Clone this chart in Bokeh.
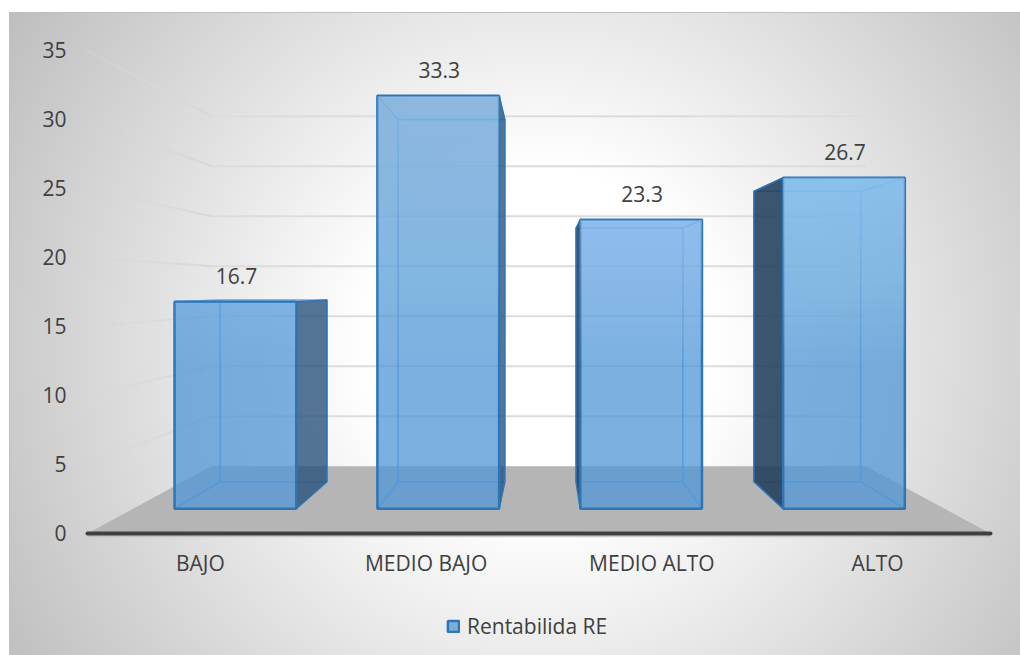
from bokeh.core.properties import value
from bokeh.embed import file_html
from bokeh.models import ColumnDataSource, FixedTicker, Legend, LegendItem, Range1d
from bokeh.plotting import figure
from bokeh.resources import INLINE

categories = ["BAJO", "MEDIO BAJO", "MEDIO ALTO", "ALTO"]
rentabilidad = [16.7, 33.3, 23.3, 26.7]
y_ticks = [0, 5, 10, 15, 20, 25, 30, 35]
series_name = "Rentabilida RE"

FONT = "Open Sans"
TEXT = "#404040"

# Perspective camera: depth factor 1 is the plane of the axes.
HORIZON = 17.7
WALL_VANISH_X = 1.993
BAR_VANISH_X = 2.03
S_BAR_FRONT = 0.8986
S_BAR_BACK = 0.788
S_WALL = 0.725
HALF_WIDTH = 0.3
# Strength of the light sheen on each bar's front face
SHEEN = [0.03, 0.028, 0.05, 0.055]


def project(x, v, s, vx):
    return vx + (x - vx) * s, HORIZON + (v - HORIZON) * s


def face(points, vx=BAR_VANISH_X):
    xy = [project(*pt, vx) for pt in points]
    return [q[0] for q in xy], [q[1] for q in xy]


# The frame fills the page; both axes sit inside it at their zero lines.
p = figure(
    width=1020, height=655, output_backend="svg", toolbar_location=None,
    x_range=Range1d(-0.3854, 4.1329), y_range=Range1d(-8.841, 38.623),
    min_border_left=0, min_border_right=0, min_border_top=0, min_border_bottom=0,
    background_fill_color=None, border_fill_color=None, outline_line_color=None,
)
p.styles = {
    "background": (
        "linear-gradient(#bfbfbf,#bfbfbf) 9px 12px/1011px 1px no-repeat,"
        "linear-gradient(#bfbfbf,#bfbfbf) 9px 12px/1px 643px no-repeat,"
        "radial-gradient(circle 640px at 530px 330px,#ffffff 0%,#ffffff 27%,#bcbcbc 100%)"
        " 10px 13px/1010px 642px no-repeat,#ffffff"
    )
}
p.grid.visible = False

# Axes
p.yaxis.fixed_location = 0
p.yaxis.ticker = FixedTicker(ticks=y_ticks)
p.yaxis.axis_line_color = None
p.yaxis.major_tick_line_color = None
p.yaxis.minor_tick_line_color = None
p.yaxis.major_label_standoff = 15
p.yaxis.major_label_text_font = FONT
p.yaxis.major_label_text_font_size = "21px"
p.yaxis.major_label_text_color = TEXT

p.xaxis.fixed_location = 0
p.xaxis.bounds = (0, 4)
p.xaxis.ticker = FixedTicker(ticks=[i + 0.5 for i in range(len(categories))])
p.xaxis.major_label_overrides = {i + 0.5: c for i, c in enumerate(categories)}
p.xaxis.axis_line_color = "#404040"
p.xaxis.axis_line_width = 4
p.xaxis.axis_line_cap = "round"
p.xaxis.major_tick_line_color = None
p.xaxis.minor_tick_line_color = None
p.xaxis.major_label_standoff = 10
p.xaxis.major_label_text_font = FONT
p.xaxis.major_label_text_font_size = "21px"
p.xaxis.major_label_text_color = TEXT

# Floor of the 3D box, with a soft shadow under the category axis
fx, fy = face([(0, 0, 1), (4, 0, 1), (4, 0, S_WALL), (0, 0, S_WALL)], WALL_VANISH_X)
p.patch(fx, fy, fill_color="#b5b5b5", line_color=None)
p.line([0, 4], [-0.2, -0.2], line_color="#b8b8b8", line_width=2, line_alpha=0.7)

# Back wall gridlines, and side wall lines that fade out towards the axis
for t in y_ticks[1:]:
    bx, by = face([(0, t, S_WALL), (4, t, S_WALL)], WALL_VANISH_X)
    p.line(bx, by, line_color="#dcdcdc", line_width=2)
    steps = 10
    for k in range(steps):
        s0 = 1 + (S_WALL - 1) * k / steps
        s1 = 1 + (S_WALL - 1) * (k + 1) / steps
        sx, sy = face([(0, t, s0), (0, t, s1)], WALL_VANISH_X)
        p.line(sx, sy, line_color="#d8d8d8", line_width=2, line_alpha=0.25 + 0.75 * (k + 1) / steps)

EDGE = "#2e75b6"
INNER = "#5fa2e0"
front_x, front_y = [], []
for i, v in enumerate(rentabilidad):
    c = i + 0.5
    l, r = c - HALF_WIDTH, c + HALF_WIDTH
    near_x = r if c < BAR_VANISH_X else l
    far_x = l if c < BAR_VANISH_X else r
    F, B = S_BAR_FRONT, S_BAR_BACK

    # Inner faces, seen through the translucent front
    inner_faces = [
        [(l, 0, B), (r, 0, B), (r, v, B), (l, v, B)],
        [(far_x, 0, F), (far_x, 0, B), (far_x, v, B), (far_x, v, F)],
        [(l, 0, F), (r, 0, F), (r, 0, B), (l, 0, B)],
        [(l, v, F), (r, v, F), (r, v, B), (l, v, B)],
    ]
    for pts in inner_faces:
        ix, iy = face(pts)
        p.patch(ix, iy, fill_color="#5b9bd5", fill_alpha=0.1,
                line_color=INNER, line_width=1.5, line_alpha=0.6)

    # Outer side face in shadow, deeper on the bars right of the vanishing point
    sx, sy = face([(near_x, 0, F), (near_x, 0, B), (near_x, v, B), (near_x, v, F)])
    if c < BAR_VANISH_X:
        p.patch(sx, sy, fill_color="#234b75", fill_alpha=0.75, line_color=EDGE, line_width=1.5)
    else:
        p.patch(sx, sy, fill_color="#1f3a57", fill_alpha=0.85, line_color=EDGE, line_width=1.5)

    fx, fy = face([(l, 0, F), (r, 0, F), (r, v, F), (l, v, F)])
    front_x.append(fx)
    front_y.append(fy)

front_faces = p.patches(front_x, front_y, fill_color="#4f95d7", fill_alpha=0.72,
                        line_color=EDGE, line_width=2.5)

# Lighter sheen building up with height on the front faces
for i, v in enumerate(rentabilidad):
    c = i + 0.5
    l, r = c - HALF_WIDTH, c + HALF_WIDTH
    level = 12.0
    while level < v:
        sx, sy = face([(l, level, S_BAR_FRONT), (r, level, S_BAR_FRONT),
                       (r, v, S_BAR_FRONT), (l, v, S_BAR_FRONT)])
        p.patch(sx, sy, fill_color="#a8d8ff", fill_alpha=SHEEN[i], line_color=None)
        level += 1.0

# Value labels above the front top edge of each bar
label_pts = [project(i + 0.5, v, S_BAR_FRONT, BAR_VANISH_X) for i, v in enumerate(rentabilidad)]
labels = ColumnDataSource(dict(
    x=[q[0] for q in label_pts], y=[q[1] for q in label_pts],
    text=[f"{v:.1f}" for v in rentabilidad],
))
p.text(x="x", y="y", text="text", source=labels, x_offset=1, y_offset=-26,
       text_align="center", text_baseline="middle",
       text_font=value(FONT), text_font_size="21px", text_color=TEXT)

legend = Legend(
    items=[LegendItem(label=series_name, renderers=[front_faces])],
    location=(446, 15), orientation="horizontal",
    background_fill_alpha=0, border_line_color=None,
    label_text_font=FONT, label_text_font_size="21px", label_text_color=TEXT,
    glyph_width=14, glyph_height=14, label_standoff=7,
    padding=6, margin=0,
)
p.add_layout(legend)

open("out.html", "w").write(file_html(p, INLINE))
